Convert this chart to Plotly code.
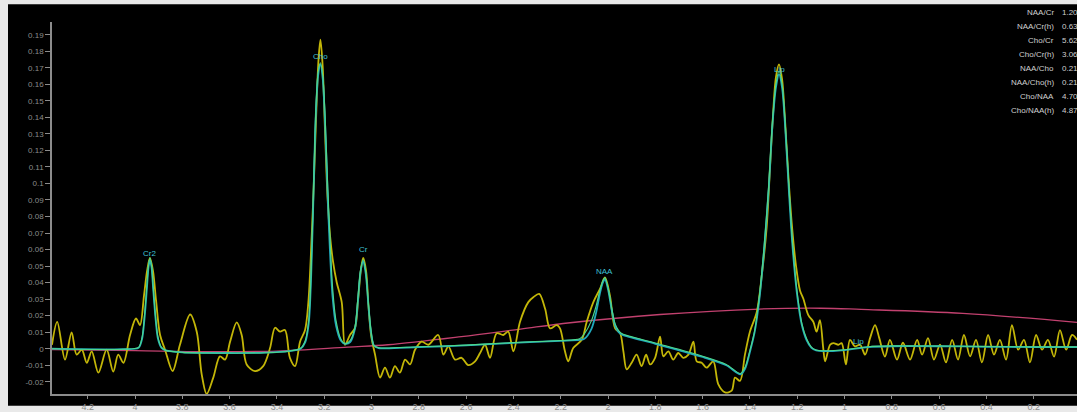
import plotly.graph_objects as go

# ---------------- data ----------------
raw_ppm = [4.351, 4.329, 4.296, 4.268, 4.247, 4.225, 4.204, 4.183, 4.155, 4.120, 4.092, 4.071, 4.049, 4.021,
           3.996, 3.979, 3.962, 3.949, 3.937, 3.924, 3.911, 3.894, 3.873, 3.841, 3.810, 3.767, 3.739, 3.718,
           3.697, 3.669, 3.641, 3.619, 3.598, 3.570, 3.549, 3.528, 3.493, 3.458, 3.429, 3.408, 3.387, 3.366,
           3.345, 3.323, 3.302, 3.281, 3.267, 3.253, 3.243, 3.233, 3.224, 3.216, 3.207, 3.197, 3.186, 3.175,
           3.163, 3.147, 3.126, 3.112, 3.091, 3.070, 3.057, 3.044, 3.035, 3.023, 3.013, 3.002, 2.985, 2.964,
           2.943, 2.922, 2.901, 2.880, 2.858, 2.837, 2.816, 2.788, 2.760, 2.718, 2.696, 2.675, 2.647, 2.619,
           2.591, 2.562, 2.541, 2.520, 2.499, 2.471, 2.443, 2.422, 2.400, 2.372, 2.337, 2.316, 2.291, 2.266,
           2.245, 2.217, 2.203, 2.182, 2.168, 2.147, 2.111, 2.090, 2.062, 2.034, 2.013, 1.992, 1.970, 1.949,
           1.935, 1.921, 1.900, 1.879, 1.858, 1.839, 1.822, 1.801, 1.780, 1.766, 1.745, 1.724, 1.703, 1.682,
           1.660, 1.639, 1.625, 1.604, 1.583, 1.555, 1.534, 1.505, 1.477, 1.463, 1.442, 1.421, 1.400, 1.371,
           1.350, 1.329, 1.315, 1.302, 1.290, 1.277, 1.264, 1.252, 1.237, 1.222, 1.205, 1.188, 1.174, 1.153,
           1.132, 1.118, 1.104, 1.090, 1.082, 1.061, 1.047, 1.026, 1.012, 0.994, 0.977, 0.956, 0.934, 0.913,
           0.892, 0.871, 0.853, 0.829, 0.808, 0.778, 0.753, 0.723, 0.693, 0.672, 0.647, 0.622, 0.596, 0.571,
           0.545, 0.520, 0.495, 0.469, 0.444, 0.419, 0.393, 0.368, 0.343, 0.317, 0.292, 0.266, 0.241, 0.216,
           0.190, 0.165, 0.140, 0.114, 0.089, 0.063, 0.038, 0.017]
raw_val = [0.0024, 0.0163, -0.0066, 0.0099, -0.0036, -0.0006, -0.0085, -0.0016, -0.0145, -0.0006, -0.0139,
           -0.0036, -0.0085, 0.0083, 0.0183, 0.0143, 0.0322, 0.0471, 0.0550, 0.0471, 0.0292, 0.0083, -0.0006,
           -0.0135, 0.0024, 0.0207, 0.0103, -0.0155, -0.0274, -0.0175, -0.0046, -0.0066, 0.0043, 0.0159,
           0.0083, -0.0095, -0.0135, -0.0105, 0.0004, 0.0127, 0.0103, 0.0113, -0.0055, -0.0105, 0.0043,
           0.0113, 0.0282, 0.0679, 0.1036, 0.1453, 0.1751, 0.1870, 0.1721, 0.1334, 0.0917, 0.0679, 0.0530,
           0.0401, 0.0282, 0.0024, 0.0083, 0.0125, 0.0292, 0.0488, 0.0550, 0.0471, 0.0262, 0.0083, -0.0036,
           -0.0175, -0.0115, -0.0175, -0.0105, -0.0145, -0.0066, -0.0095, -0.0006, 0.0043, 0.0024, 0.0083,
           -0.0036, 0.0014, -0.0066, -0.0055, -0.0099, -0.0076, -0.0026, 0.0024, -0.0055, 0.0094, 0.0083,
           0.0103, -0.0016, 0.0163, 0.0282, 0.0311, 0.0332, 0.0242, 0.0123, 0.0143, 0.0123, -0.0016, -0.0076,
           0.0004, 0.0054, 0.0163, 0.0282, 0.0362, 0.0431, 0.0322, 0.0123, 0.0094, -0.0016, -0.0125, -0.0085,
           -0.0036, -0.0105, -0.0036, -0.0095, -0.0055, 0.0073, -0.0046, -0.0016, -0.0066, -0.0026, -0.0055,
           -0.0036, 0.0043, -0.0076, -0.0085, -0.0115, -0.0076, -0.0214, -0.0264, -0.0254, -0.0175, -0.0195,
           -0.0036, 0.0103, 0.0222, 0.0441, 0.0739, 0.1096, 0.1423, 0.1644, 0.1721, 0.1632, 0.1394, 0.1036,
           0.0739, 0.0500, 0.0351, 0.0302, 0.0203, 0.0163, 0.0103, 0.0173, 0.0004, -0.0076, 0.0024, 0.0034,
           0.0024, 0.0034, -0.0095, 0.0054, 0.0014, 0.0024, -0.0036, 0.0064, 0.0143, 0.0064, -0.0048, 0.0054,
           -0.0066, 0.0036, -0.0066, 0.0054, -0.0036, 0.0064, -0.0066, 0.0024, -0.0083, 0.0054, -0.0066,
           0.0083, -0.0046, 0.0054, -0.0083, 0.0083, -0.0036, 0.0054, -0.0066, 0.0143, -0.0006, 0.0054,
           -0.0083, 0.0083, -0.0006, 0.0054, -0.0048, 0.0113, -0.0006, 0.0083, 0.0054]

fit_ppm = [4.351, 4.05, 3.985, 3.970, 3.960, 3.950, 3.943, 3.937, 3.930, 3.923, 3.913, 3.903, 3.888, 3.870,
           3.80, 3.60, 3.45, 3.35, 3.30, 3.280, 3.265, 3.255, 3.245, 3.236, 3.226, 3.216, 3.206, 3.196, 3.186,
           3.176, 3.165, 3.150, 3.130, 3.112, 3.090, 3.070, 3.058, 3.047, 3.035, 3.024, 3.013, 3.002, 2.990,
           2.970, 2.80, 2.60, 2.40, 2.20, 2.12, 2.100, 2.070, 2.050, 2.035, 2.022, 2.013, 2.000, 1.985, 1.970,
           1.955, 1.940, 1.80, 1.60, 1.50, 1.44, 1.42, 1.40, 1.38, 1.36, 1.34, 1.32, 1.305, 1.29, 1.277, 1.264,
           1.25, 1.235, 1.22, 1.20, 1.18, 1.16, 1.14, 1.12, 1.09, 1.00, 0.90, 0.80, 0.60, 0.40, 0.20, 0.017]
fit_val = [0.0, -0.0003, 0.0005, 0.006, 0.018, 0.036, 0.049, 0.054, 0.049, 0.036, 0.018, 0.006, 0.0005, -0.001,
           -0.0022, -0.0026, -0.0024, -0.0015, 0.0, 0.004, 0.016, 0.045, 0.095, 0.140, 0.165, 0.172, 0.163,
           0.135, 0.095, 0.060, 0.032, 0.014, 0.005, 0.003, 0.004, 0.012, 0.028, 0.046, 0.053, 0.045, 0.026,
           0.010, 0.002, 0.0004, 0.0010, 0.0020, 0.0035, 0.0048, 0.0054, 0.006, 0.012, 0.022, 0.033, 0.040,
           0.042, 0.036, 0.024, 0.014, 0.010, 0.0085, 0.003, -0.005, -0.010, -0.0155, -0.012, -0.002, 0.010,
           0.030, 0.060, 0.098, 0.135, 0.158, 0.166, 0.158, 0.132, 0.095, 0.062, 0.032, 0.014, 0.005, 0.0005,
           -0.001, -0.0015, -0.0008, 0.0010, 0.0015, 0.0015, 0.0012, 0.0010, 0.0010]

green_ppm = [4.351, 4.05, 3.985, 3.970, 3.960, 3.950, 3.943, 3.937, 3.930, 3.923, 3.913, 3.903, 3.888, 3.870,
             3.80, 3.60, 3.45, 3.35, 3.30, 3.280, 3.265, 3.255, 3.245, 3.236, 3.226, 3.216, 3.206, 3.196, 3.186,
             3.176, 3.165, 3.150, 3.130, 3.112, 3.090, 3.070, 3.058, 3.047, 3.035, 3.024, 3.013, 3.002, 2.990,
             2.970, 2.80, 2.60, 2.40, 2.20, 2.12, 2.100, 2.070, 2.050, 2.035, 2.022, 2.013, 2.000, 1.985, 1.970,
             1.955, 1.940, 1.80, 1.60, 1.50, 1.44, 1.42, 1.40, 1.38, 1.36, 1.34, 1.32, 1.305, 1.29, 1.277, 1.264,
             1.25, 1.235, 1.22, 1.20, 1.18, 1.16, 1.14, 1.12, 1.09, 1.00, 0.90, 0.80, 0.60, 0.40, 0.20, 0.017]
green_val = [0.0, -0.0003, 0.0008, 0.007, 0.020, 0.038, 0.050, 0.055, 0.050, 0.037, 0.019, 0.007, 0.0008, -0.001,
             -0.0022, -0.0026, -0.0024, -0.0015, 0.0003, 0.005, 0.018, 0.048, 0.098, 0.143, 0.167, 0.173, 0.165,
             0.140, 0.102, 0.068, 0.038, 0.017, 0.006, 0.003, 0.005, 0.013, 0.030, 0.047, 0.054, 0.046, 0.027,
             0.011, 0.002, 0.0006, 0.0012, 0.0022, 0.0037, 0.0050, 0.0060, 0.009, 0.017, 0.026, 0.035, 0.041,
             0.043, 0.037, 0.025, 0.015, 0.011, 0.009, 0.0035, -0.0045, -0.0095, -0.015, -0.011, -0.001, 0.011,
             0.032, 0.062, 0.100, 0.137, 0.160, 0.168, 0.160, 0.135, 0.098, 0.064, 0.034, 0.015, 0.006, 0.001,
             -0.0008, -0.0012, -0.0006, 0.0012, 0.0017, 0.0016, 0.0013, 0.0011, 0.0011]

base_ppm = [4.351, 4.0, 3.7, 3.4, 3.1, 2.93, 2.62, 2.37, 2.16, 1.78, 1.36, 1.10, 0.93, 0.50, 0.017]
base_val = [-0.0006, -0.0012, -0.0018, -0.0014, 0.0010, 0.0024, 0.0073, 0.0119, 0.0157, 0.0207, 0.0240,
            0.0245, 0.0238, 0.0214, 0.0160]

peak_names = ["Cr2", "Cho", "Cr", "NAA", "Lip", "Lip"]
peak_ppm = [3.937, 3.216, 3.035, 2.017, 1.277, 0.942]
peak_lab_y = [0.0578, 0.1769, 0.0602, 0.0465, 0.169, 0.0042]

ratio_names = ["NAA/Cr", "NAA/Cr(h)", "Cho/Cr", "Cho/Cr(h)", "NAA/Cho", "NAA/Cho(h)", "Cho/NAA", "Cho/NAA(h)"]
ratio_vals = ["1.20", "0.63", "5.62", "3.06", "0.21", "0.21", "4.70", "4.87"]

x_ticks = [4.2, 4.0, 3.8, 3.6, 3.4, 3.2, 3.0, 2.8, 2.6, 2.4, 2.2, 2.0, 1.8, 1.6, 1.4, 1.2, 1.0, 0.8, 0.6, 0.4, 0.2]
x_ticktext = ["4.2", "4", "3.8", "3.6", "3.4", "3.2", "3", "2.8", "2.6", "2.4", "2.2", "2", "1.8", "1.6", "1.4",
              "1.2", "1", "0.8", "0.6", "0.4", "0.2"]
y_ticks = [-0.02, -0.01, 0, 0.01, 0.02, 0.03, 0.04, 0.05, 0.06, 0.07, 0.08, 0.09, 0.10, 0.11, 0.12, 0.13, 0.14,
           0.15, 0.16, 0.17, 0.18, 0.19]
y_ticktext = ["-0.02", "-0.01", "0", "0.01", "0.02", "0.03", "0.04", "0.05", "0.06", "0.07", "0.08", "0.09",
              "0.1", "0.11", "0.12", "0.13", "0.14", "0.15", "0.16", "0.17", "0.18", "0.19"]

# ---------------- figure ----------------
W, H = 1077, 412
ML, MT, MB = 52, 22, 12
PW, PH = W - ML, H - MT - MB

fig = go.Figure()
fig.add_trace(go.Scatter(x=base_ppm, y=base_val, mode="lines",
                         line=dict(color="#c2416f", width=1.3, shape="spline"), hoverinfo="skip"))
fig.add_trace(go.Scatter(x=raw_ppm, y=raw_val, mode="lines",
                         line=dict(color="#c3b608", width=1.8, shape="spline", smoothing=0.9), hoverinfo="skip"))
fig.add_trace(go.Scatter(x=fit_ppm, y=fit_val, mode="lines",
                         line=dict(color="#20a8bc", width=1.8, shape="spline", smoothing=0.8), hoverinfo="skip"))
fig.add_trace(go.Scatter(x=green_ppm, y=green_val, mode="lines",
                         line=dict(color="#4fd98a", width=1.1, shape="spline", smoothing=0.8), hoverinfo="skip"))

annotations = []
for name, px, py in zip(peak_names, peak_ppm, peak_lab_y):
    annotations.append(dict(x=px, y=py, xref="x", yref="y", text=name, showarrow=False,
                            font=dict(family="Liberation Sans, Arial", size=8, color="#3fc0d4"),
                            xanchor="center", yanchor="middle"))

for i, (n, v) in enumerate(zip(ratio_names, ratio_vals)):
    ypix = 12.7 + 14.2 * i
    yp = (H - MB - ypix) / PH
    annotations.append(dict(x=(1056 - ML) / PW, y=yp, xref="paper", yref="paper", text=n, showarrow=False,
                            xanchor="right", yanchor="middle",
                            font=dict(family="Liberation Sans, Arial", size=8, color="#cfcfcf")))
    annotations.append(dict(x=(1060 - ML) / PW, y=yp, xref="paper", yref="paper", text=v, showarrow=False,
                            xanchor="left", yanchor="middle",
                            font=dict(family="Liberation Sans, Arial", size=8, color="#cfcfcf")))

shapes = [dict(type="rect", xref="paper", yref="paper", layer="below",
               x0=(8 - ML) / PW, x1=1.0, y0=(H - MB - H) / PH, y1=(H - MB - 4) / PH,
               fillcolor="black", line=dict(width=0))]

fig.update_layout(
    width=W, height=H,
    margin=dict(l=ML, r=0, t=MT, b=MB, pad=0),
    paper_bgcolor="#e9e9e9", plot_bgcolor="black",
    showlegend=False,
    annotations=annotations, shapes=shapes,
    xaxis=dict(range=[4.351, 0.017], tickvals=x_ticks, ticktext=x_ticktext, showgrid=False, zeroline=False,
               showline=True, linecolor="#8c8c8c", linewidth=1.5, ticks="outside", ticklen=3,
               tickcolor="#8c8c8c", tickfont=dict(family="Liberation Sans, Arial", size=9, color="#8c8c8c")),
    yaxis=dict(range=[-0.0274, 0.1977], tickvals=y_ticks, ticktext=y_ticktext, showgrid=False, zeroline=False,
               showline=True, linecolor="#8c8c8c", linewidth=1.5, ticks="outside", ticklen=5,
               tickcolor="#8c8c8c", tickfont=dict(family="Liberation Sans, Arial", size=8, color="#8c8c8c")),
)

fig.write_html("out.html")
